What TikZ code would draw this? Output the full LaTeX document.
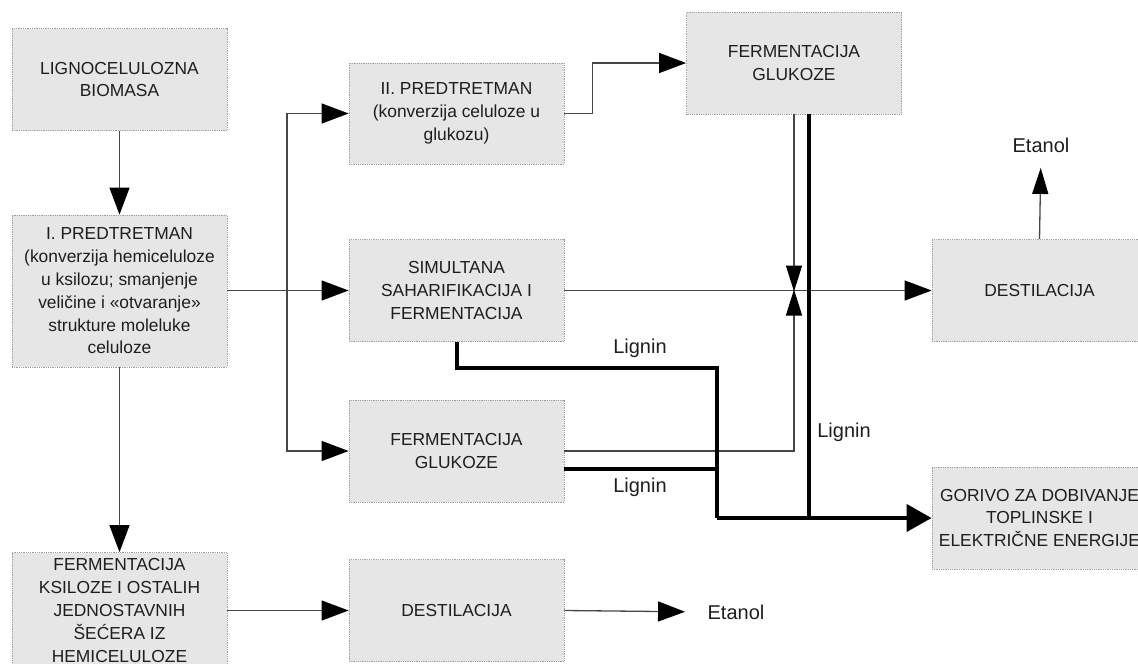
\documentclass[tikz,border=0pt]{standalone}
\usepackage{fontspec}
\setmainfont{Liberation Sans}
\usetikzlibrary{arrows.meta}

\definecolor{boxgray}{RGB}{230,230,230}
\definecolor{edgegray}{RGB}{160,160,160}
\definecolor{inkgray}{RGB}{30,30,30}
\definecolor{linegray}{RGB}{70,70,70}

\tikzset{every picture/.style={line width=1.2pt}}
\tikzset{
  procbox/.style={draw=edgegray, densely dotted, line width=0.8pt, fill=boxgray,
    minimum width=215pt, minimum height=102pt, inner sep=0pt, align=center,
    text=inkgray, font=\fontsize{17.4}{22.8}\selectfont},
  lbl/.style={inner sep=0pt, text=inkgray, font=\fontsize{20}{24}\selectfont},
  flow/.style={draw=linegray, line width=1.3pt, -{Triangle[length=27pt,width=20pt,color=black]}},
  slim/.style={-{Triangle[length=26pt,width=16pt,color=black]}},
  lig/.style={draw=black, line width=4pt},
}

\begin{document}
\begin{tikzpicture}[x=1pt,y=1pt,yscale=-1,xscale=1]
\useasboundingbox (0,0) rectangle (1138,664);
\clip (0,0) rectangle (1138,664);

%Shape: Boxes
\node[procbox] (bio) at (119.5,79.5) {LIGNOCELULOZNA\\BIOMASA};
\node[procbox, minimum height=152pt] (pre1) at (119.5,291) {I. PREDTRETMAN\\(konverzija hemiceluloze\\u ksilozu; smanjenje\\veličine i «otvaranje»\\strukture moleluke\\celuloze};
\node[procbox, minimum height=116pt] (fksil) at (119.5,610.5) {FERMENTACIJA\\KSILOZE I OSTALIH\\JEDNOSTAVNIH\\ŠEĆERA IZ\\HEMICELULOZE};
\node[procbox, minimum height=101pt] (pre2) at (456.5,113.5) {II. PREDTRETMAN\\(konverzija celuloze u\\glukozu)};
\node[procbox] (ssf) at (456.5,290.5) {SIMULTANA\\SAHARIFIKACIJA I\\FERMENTACIJA};
\node[procbox] (fgm) at (456.5,451) {FERMENTACIJA\\GLUKOZE};
\node[procbox] (destb) at (456.5,610.5) {DESTILACIJA};
\node[procbox] (fgt) at (794,63) {FERMENTACIJA\\GLUKOZE};
\node[procbox] (dest) at (1039.5,290.5) {DESTILACIJA};
\node[procbox] (gorivo) at (1039.5,518) {GORIVO ZA DOBIVANJE\\TOPLINSKE I\\ELEKTRIČNE ENERGIJE};

% Text Node
\node[lbl] (etanolT) at (1041,145) {Etanol};
% Text Node
\node[lbl] (etanolB) at (736,612) {Etanol};
% Text Node
\node[lbl] (lig1) at (640,348) {Lignin};
% Text Node
\node[lbl] (lig2) at (640,487) {Lignin};
% Text Node
\node[lbl] (lig3) at (844,432) {Lignin};

\coordinate (split) at (287,290.5);
\coordinate (meet) at (794,290.5);
\coordinate (ligjoin) at (717,518);

%Straight Lines
\draw[flow] (bio) -- (pre1);
\draw[flow] (pre1) -- (fksil);
\draw[flow] (pre1.east |- split) -- (ssf.west);
\draw[flow] (split) |- (pre2.west);
\draw[flow] (split) |- (fgm.west);
\draw[flow] (pre2.east) -- ++(28,0) |- (fgt.west);
\draw[flow] (ssf.east) -- (dest.west);
\draw[flow, slim] (fgt.south) -- ([yshift=1pt]meet);
\draw[flow, slim] (fgm.east) -| ([yshift=-1pt]meet);
\draw[flow, slim, shorten >=15pt] (dest.north) -- (etanolT.south);
\draw[flow] (fksil.east |- destb.west) -- (destb.west);
\draw[flow, shorten >=22pt] (destb.east) -- (etanolB.west);

%Lignin lines
\draw[lig] (ssf.south) -- ++(0,26) -| (ligjoin);
\draw[lig] ([yshift=18pt]fgm.east) -| (ligjoin);
\draw[lig] ([xshift=15pt]fgt.south) |- (ligjoin);
\draw[lig, -{Triangle[length=25pt,width=27pt]}] (ligjoin) -- (gorivo.west);

\end{tikzpicture}
\end{document}
